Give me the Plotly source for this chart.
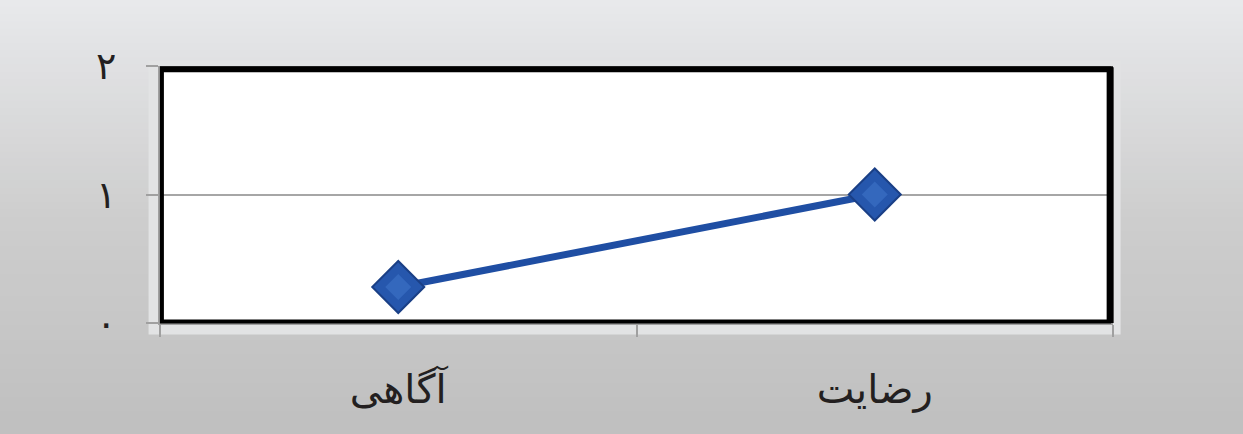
import plotly.graph_objects as go

categories = ["آگاهی", "رضایت"]
values = [0.28, 1.0]
ytick_vals = [0, 1, 2]
ytick_text = ["۰", "۱", "۲"]

fig = go.Figure()
fig.add_trace(go.Scatter(
    x=categories, y=values, mode="lines+markers",
    line=dict(color="#1f4ea3", width=7),
    marker=dict(symbol="diamond", size=40, color="#2657ad",
                line=dict(color="#1a3f86", width=2)),
    showlegend=False, cliponaxis=False, hoverinfo="skip",
))
fig.add_trace(go.Scatter(
    x=categories, y=values, mode="markers",
    marker=dict(symbol="diamond", size=20, color="#3468bd",
                line=dict(width=0)),
    showlegend=False, cliponaxis=False, hoverinfo="skip",
))

# gradient background stripes
shapes = []
n = 60
top_c = (232, 233, 235)
mid_c = (206, 206, 206)
bot_c = (192, 192, 192)
H = 257
y0p, y1p = -111 / H, 1 + 66 / H
for i in range(n):
    t = i / (n - 1)
    if t < 0.5:
        u = t / 0.5
        c = tuple(int(top_c[k] + (mid_c[k] - top_c[k]) * u) for k in range(3))
    else:
        u = (t - 0.5) / 0.5
        c = tuple(int(mid_c[k] + (bot_c[k] - mid_c[k]) * u) for k in range(3))
    ya = y1p - (y1p - y0p) * i / n
    yb = y1p - (y1p - y0p) * (i + 1) / n
    shapes.append(dict(type="rect", xref="paper", yref="paper",
                       x0=-1, x1=2, y0=yb - 0.002, y1=ya + 0.002,
                       fillcolor="rgb(%d,%d,%d)" % c, line=dict(width=0),
                       layer="below"))
# light frame around plot
shapes.append(dict(type="rect", xref="paper", yref="paper",
                   x0=-0.012, x1=1.008, y0=-0.045, y1=1.02,
                   fillcolor="#e2e3e4", line=dict(width=0), layer="below"))
shapes.append(dict(type="rect", xref="paper", yref="paper",
                   x0=0, x1=1, y0=0, y1=1,
                   fillcolor="white", line=dict(width=0), layer="below"))
# black border
shapes.append(dict(type="rect", xref="paper", yref="paper",
                   x0=0.002, x1=0.996, y0=0.006, y1=0.99,
                   line=dict(color="black", width=4), layer="above"))
shapes.append(dict(type="line", xref="paper", yref="paper",
                   x0=0.997, x1=0.997, y0=0.0, y1=0.995,
                   line=dict(color="black", width=7), layer="above"))
shapes.append(dict(type="line", xref="paper", yref="paper",
                   x0=0.0, x1=1.0, y0=0.987, y1=0.987,
                   line=dict(color="black", width=6), layer="above"))

fig.update_layout(
    width=1243, height=434,
    margin=dict(l=160, r=130, t=66, b=111),
    paper_bgcolor="#d0d0d0", plot_bgcolor="white",
    shapes=shapes,
    font=dict(family="DejaVu Sans", color="#231f20"),
    xaxis=dict(type="category", range=[-0.5, 1.5], showgrid=False,
               tickson="boundaries", ticks="outside", ticklen=12,
               tickcolor="#a0a0a0", tickwidth=2,
               showline=True, linecolor="#a0a0a0", linewidth=2,
               tickfont=dict(size=40, family="DejaVu Sans"),
               ticklabelstandoff=30, zeroline=False),
    yaxis=dict(range=[0, 2], tickvals=ytick_vals, ticktext=ytick_text,
               showgrid=True, gridcolor="#a6a6a6", gridwidth=2,
               ticks="outside", ticklen=12, tickcolor="#a0a0a0", tickwidth=2,
               showline=True, linecolor="#a0a0a0", linewidth=2,
               tickfont=dict(size=38, family="DejaVu Sans"),
               ticklabelstandoff=22, zeroline=False),
)

fig.write_html("out.html", config={"displayModeBar": False},
               post_script="document.body.style.margin='0';document.body.style.background='#d0d0d0';")
